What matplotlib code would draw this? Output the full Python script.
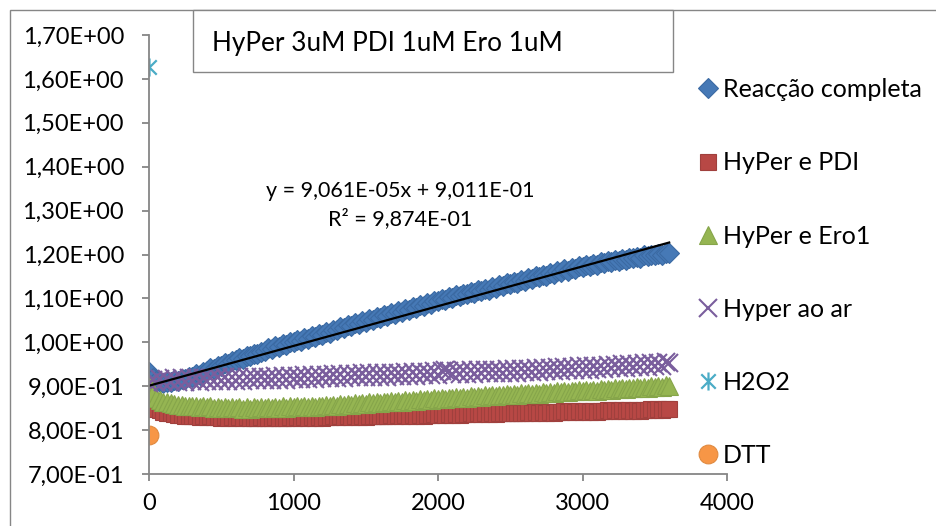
"""HyPer 3uM PDI 1uM Ero 1uM - fluorescence ratio over time."""

import numpy as np
import matplotlib
matplotlib.use("Agg")
import matplotlib.pyplot as plt
from matplotlib.path import Path
from matplotlib.patches import Rectangle
from matplotlib.ticker import FuncFormatter, MultipleLocator

plt.rcParams['font.family'] = ['Lato', 'DejaVu Sans']

# time (s), one reading every 25 s
time_s = np.arange(0, 3601, 25)

# one row = 200 s
reaccao_completa = [
    0.933, 0.918, 0.912, 0.910, 0.907, 0.910, 0.909, 0.913,
    0.912, 0.917, 0.916, 0.922, 0.921, 0.927, 0.926, 0.933,
    0.935, 0.941, 0.940, 0.947, 0.946, 0.952, 0.951, 0.958,
    0.959, 0.965, 0.963, 0.969, 0.968, 0.974, 0.973, 0.979,
    0.980, 0.986, 0.984, 0.991, 0.989, 0.996, 0.994, 1.001,
    1.000, 1.006, 1.004, 1.010, 1.008, 1.014, 1.012, 1.019,
    1.017, 1.024, 1.022, 1.029, 1.027, 1.034, 1.032, 1.039,
    1.036, 1.043, 1.041, 1.048, 1.046, 1.053, 1.051, 1.058,
    1.055, 1.062, 1.060, 1.067, 1.064, 1.071, 1.069, 1.076,
    1.074, 1.081, 1.079, 1.086, 1.083, 1.090, 1.088, 1.095,
    1.093, 1.099, 1.097, 1.103, 1.101, 1.107, 1.105, 1.111,
    1.109, 1.115, 1.113, 1.119, 1.116, 1.122, 1.120, 1.126,
    1.124, 1.130, 1.128, 1.134, 1.132, 1.138, 1.136, 1.142,
    1.140, 1.146, 1.144, 1.150, 1.148, 1.154, 1.152, 1.158,
    1.156, 1.162, 1.159, 1.166, 1.163, 1.169, 1.167, 1.173,
    1.171, 1.176, 1.174, 1.179, 1.177, 1.182, 1.180, 1.185,
    1.183, 1.188, 1.186, 1.190, 1.188, 1.193, 1.191, 1.195,
    1.193, 1.198, 1.196, 1.200, 1.198, 1.202, 1.200, 1.203,
    1.203,
]

hyper_pdi = [
    0.862, 0.855, 0.849, 0.845, 0.842, 0.840, 0.838, 0.836,
    0.835, 0.834, 0.832, 0.833, 0.831, 0.832, 0.830, 0.831,
    0.830, 0.831, 0.829, 0.830, 0.828, 0.830, 0.828, 0.829,
    0.828, 0.829, 0.827, 0.829, 0.827, 0.828, 0.827, 0.829,
    0.827, 0.828, 0.827, 0.829, 0.827, 0.828, 0.827, 0.829,
    0.827, 0.829, 0.828, 0.829, 0.828, 0.830, 0.828, 0.830,
    0.828, 0.830, 0.829, 0.831, 0.829, 0.831, 0.829, 0.831,
    0.830, 0.832, 0.830, 0.832, 0.830, 0.832, 0.831, 0.833,
    0.831, 0.833, 0.832, 0.834, 0.832, 0.834, 0.832, 0.834,
    0.833, 0.835, 0.833, 0.835, 0.833, 0.835, 0.834, 0.836,
    0.834, 0.836, 0.835, 0.837, 0.835, 0.837, 0.835, 0.837,
    0.836, 0.838, 0.836, 0.838, 0.837, 0.839, 0.837, 0.839,
    0.837, 0.839, 0.838, 0.840, 0.838, 0.840, 0.838, 0.840,
    0.839, 0.841, 0.839, 0.841, 0.840, 0.842, 0.840, 0.842,
    0.840, 0.842, 0.841, 0.843, 0.841, 0.843, 0.841, 0.843,
    0.842, 0.844, 0.842, 0.844, 0.842, 0.844, 0.843, 0.845,
    0.843, 0.845, 0.843, 0.845, 0.844, 0.846, 0.844, 0.846,
    0.844, 0.846, 0.845, 0.847, 0.845, 0.847, 0.845, 0.847,
    0.847,
]

hyper_ero1 = [
    0.905, 0.884, 0.874, 0.869, 0.865, 0.863, 0.861, 0.860,
    0.858, 0.857, 0.856, 0.856, 0.854, 0.855, 0.853, 0.854,
    0.852, 0.854, 0.851, 0.853, 0.851, 0.853, 0.850, 0.852,
    0.850, 0.852, 0.849, 0.852, 0.849, 0.852, 0.850, 0.852,
    0.850, 0.853, 0.850, 0.853, 0.851, 0.854, 0.851, 0.854,
    0.852, 0.855, 0.852, 0.855, 0.853, 0.856, 0.853, 0.856,
    0.854, 0.857, 0.855, 0.858, 0.856, 0.859, 0.857, 0.860,
    0.858, 0.861, 0.859, 0.862, 0.860, 0.863, 0.861, 0.864,
    0.862, 0.865, 0.863, 0.866, 0.864, 0.867, 0.865, 0.868,
    0.866, 0.869, 0.867, 0.870, 0.868, 0.871, 0.869, 0.872,
    0.870, 0.873, 0.871, 0.874, 0.872, 0.875, 0.873, 0.876,
    0.874, 0.877, 0.875, 0.878, 0.876, 0.879, 0.877, 0.880,
    0.878, 0.881, 0.879, 0.882, 0.880, 0.883, 0.881, 0.884,
    0.882, 0.884, 0.883, 0.885, 0.883, 0.886, 0.884, 0.887,
    0.885, 0.888, 0.886, 0.889, 0.887, 0.890, 0.888, 0.891,
    0.889, 0.891, 0.890, 0.892, 0.890, 0.893, 0.891, 0.894,
    0.892, 0.895, 0.893, 0.896, 0.894, 0.897, 0.895, 0.898,
    0.896, 0.899, 0.897, 0.900, 0.898, 0.901, 0.899, 0.902,
    0.901,
]

hyper_ao_ar = [
    0.908, 0.915, 0.909, 0.917, 0.910, 0.917, 0.909, 0.918,
    0.910, 0.918, 0.910, 0.918, 0.911, 0.919, 0.910, 0.919,
    0.911, 0.919, 0.911, 0.920, 0.912, 0.920, 0.911, 0.920,
    0.912, 0.921, 0.912, 0.921, 0.913, 0.921, 0.913, 0.922,
    0.914, 0.922, 0.914, 0.923, 0.915, 0.923, 0.915, 0.924,
    0.916, 0.924, 0.916, 0.925, 0.917, 0.925, 0.917, 0.926,
    0.918, 0.926, 0.918, 0.927, 0.919, 0.927, 0.919, 0.928,
    0.920, 0.928, 0.920, 0.929, 0.921, 0.929, 0.921, 0.930,
    0.922, 0.930, 0.922, 0.931, 0.923, 0.931, 0.923, 0.932,
    0.924, 0.932, 0.924, 0.933, 0.925, 0.933, 0.925, 0.934,
    0.926, 0.934, 0.938, 0.935, 0.927, 0.935, 0.927, 0.936,
    0.928, 0.936, 0.928, 0.937, 0.929, 0.937, 0.929, 0.938,
    0.930, 0.938, 0.930, 0.939, 0.931, 0.939, 0.931, 0.940,
    0.932, 0.940, 0.932, 0.941, 0.933, 0.941, 0.934, 0.942,
    0.935, 0.943, 0.935, 0.944, 0.936, 0.944, 0.937, 0.945,
    0.938, 0.946, 0.938, 0.947, 0.939, 0.947, 0.940, 0.948,
    0.941, 0.949, 0.941, 0.950, 0.942, 0.950, 0.943, 0.951,
    0.944, 0.952, 0.944, 0.953, 0.945, 0.953, 0.946, 0.954,
    0.953,
]

h2o2_time = [0]
h2o2 = [1.627]
dtt_time = [0]
dtt = [0.789]

# linear trendline of "Reacção completa" as reported on the chart
trend_slope = 9.061e-05
trend_intercept = 9.011e-01
trend_r2 = 9.874e-01


def excel_sci(v, pos=None):
    return "{:.2E}".format(v).replace(".", ",")


def excel_sci3(v):
    return "{:.3E}".format(v).replace(".", ",")


asterisk = Path(
    [(0, -1), (0, 1), (-0.8, -0.8), (0.8, 0.8), (-0.8, 0.8), (0.8, -0.8)],
    [Path.MOVETO, Path.LINETO, Path.MOVETO, Path.LINETO, Path.MOVETO, Path.LINETO],
)

grey = "#868686"
fs_tick = 17
fs_text = 18

fig = plt.figure(figsize=(9.36, 5.26), dpi=100)
ax = fig.add_axes([149 / 936, 52 / 526, 578 / 936, 439 / 526])

ax.plot(time_s, reaccao_completa, ls="none", marker="D", ms=10,
        mfc="#4679B6", mec="#3B6AA3", mew=0.8, label="Reacção completa")
ax.plot(time_s, hyper_pdi, ls="none", marker="s", ms=12,
        mfc="#B84845", mec="#A0403D", mew=0.8, label="HyPer e PDI")
ax.plot(time_s, hyper_ero1, ls="none", marker="^", ms=13,
        mfc="#95B552", mec="#86A54A", mew=0.8, label="HyPer e Ero1")
ax.plot(time_s, hyper_ao_ar, ls="none", marker="x", ms=13,
        mec="#7A5E9D", mew=1.5, label="Hyper ao ar")
ax.plot(h2o2_time, h2o2, ls="none", marker=asterisk, ms=13,
        mec="#4BACC6", mew=1.6, label="H2O2")
ax.plot(dtt_time, dtt, ls="none", marker="o", ms=13.5,
        mfc="#F79646", mec="#E08A40", mew=0.8, label="DTT")

tx = np.array([time_s[0], time_s[-1]])
ax.plot(tx, trend_slope * tx + trend_intercept, color="black", lw=1.6)

ax.text(400 / 936, 1 - 205 / 526,
        "y = {}x + {}\nR² = {}".format(excel_sci3(trend_slope),
                                       excel_sci3(trend_intercept),
                                       excel_sci3(trend_r2)),
        transform=fig.transFigure, ha="center", va="center",
        multialignment="center", fontsize=15.5, linespacing=1.4)

ax.set_xlim(0, 4000)
ax.set_ylim(0.7, 1.7)
ax.xaxis.set_major_locator(MultipleLocator(1000))
ax.yaxis.set_major_locator(MultipleLocator(0.1))
ax.yaxis.set_major_formatter(FuncFormatter(excel_sci))

for side in ("top", "right"):
    ax.spines[side].set_visible(False)
for side in ("left", "bottom"):
    ax.spines[side].set_color(grey)
    ax.spines[side].set_linewidth(1.3)
ax.tick_params(axis="both", direction="out", length=5, width=1.3,
               color=grey, labelsize=fs_tick, labelcolor="black")
ax.tick_params(axis="y", pad=13)
ax.tick_params(axis="x", pad=9)

fig.legend(loc="upper left", bbox_to_anchor=(699 / 936, 1 - 78 / 526),
           bbox_transform=fig.transFigure, frameon=False, fontsize=fs_text,
           handlelength=0.7, handletextpad=0.25, borderpad=0,
           borderaxespad=0, labelspacing=2.01, numpoints=1)

# outer chart border (only top and left edges fall inside the picture)
fig.patches.append(Rectangle((9.5 / 936, -0.1), 1.2, 1 - 9.5 / 526 + 0.1,
                             transform=fig.transFigure, fill=False,
                             ec=grey, lw=1.0, zorder=0))

# title box
fig.patches.append(Rectangle((193 / 936, 1 - 72 / 526), 480 / 936, 62 / 526,
                             transform=fig.transFigure, fc="white",
                             ec=grey, lw=1.0, zorder=5))
fig.text(212 / 936, 1 - 43 / 526, "HyPer 3uM PDI 1uM Ero 1uM",
         ha="left", va="center", fontsize=18.8, zorder=6)

fig.savefig("out.png", dpi=100)
